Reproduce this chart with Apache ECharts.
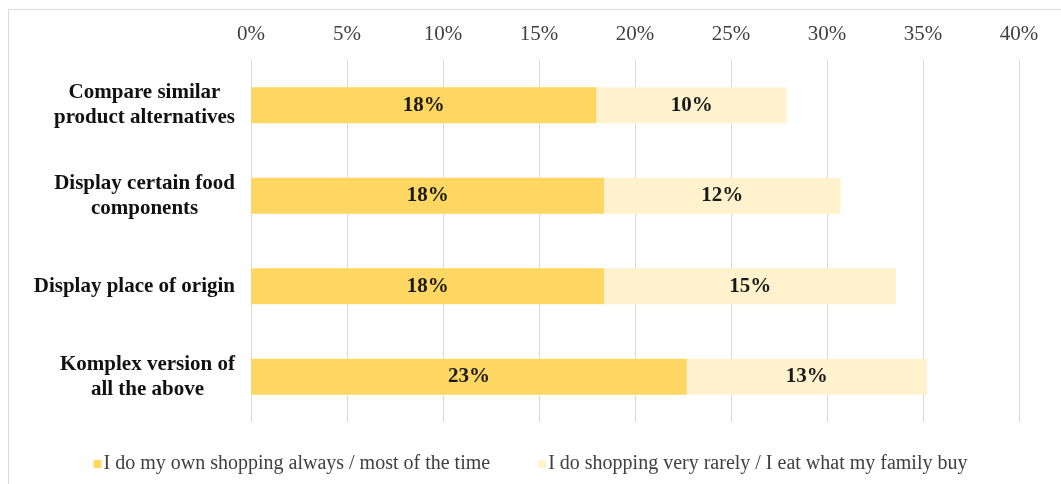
<!DOCTYPE html>
<html>
<head>
<meta charset="utf-8">
<script src="https://cdn.jsdelivr.net/npm/echarts@6/dist/echarts.min.js"></script>
<style>
  html, body { margin: 0; padding: 0; background: #ffffff; }
  #chart { width: 1061px; height: 484px; }
</style>
</head>
<body>
<div id="chart"></div>
<script>
// Survey features, top to bottom
const categories = [
  'Compare similar\nproduct alternatives',
  'Display certain food\ncomponents',
  'Display place of origin',
  'Komplex version of\nall the above'
];

// Share of respondents (%) per shopping habit
const seriesNames = [
  'I do my own shopping always / most of the time',
  'I do shopping very rarely / I eat what my family buy'
];
const ownShopping = [18.0, 18.4, 18.4, 22.7];
const rarelyShopping = [9.9, 12.3, 15.2, 12.5];

// Value axis ticks
const axisMin = 0;
const axisMax = 40;
const axisStep = 5;

const SERIF = '"Times New Roman", "Liberation Serif", serif';
const colors = ['#FED662', '#FFF2CC'];

const chart = echarts.init(document.getElementById('chart'), null, { renderer: 'canvas' });

const labelStyle = {
  show: true,
  position: 'inside',
  fontFamily: SERIF,
  fontSize: 21,
  fontWeight: 'bold',
  color: '#1a1a1a',
  formatter: p => Math.round(p.value) + '%'
};

chart.setOption({
  animation: false,
  backgroundColor: '#ffffff',
  graphic: [{
    type: 'rect',
    silent: true,
    shape: { x: 8.5, y: 9.5, width: 1200, height: 600 },
    style: { fill: 'none', stroke: '#D9D9D9', lineWidth: 1 }
  }],
  grid: { left: 251, right: 42, top: 60, bottom: 62, containLabel: false },
  xAxis: {
    type: 'value',
    position: 'top',
    min: axisMin,
    max: axisMax,
    interval: axisStep,
    axisLine: { show: false },
    axisTick: { show: false },
    splitLine: { show: true, lineStyle: { color: '#D9D9D9', width: 1 } },
    axisLabel: {
      margin: 15,
      fontFamily: SERIF,
      fontSize: 21,
      color: '#404040',
      formatter: v => v + '%'
    }
  },
  yAxis: {
    type: 'category',
    data: categories,
    inverse: true,
    axisLine: { show: false },
    axisTick: { show: false },
    splitLine: { show: false },
    axisLabel: {
      margin: 16,
      fontFamily: SERIF,
      fontSize: 21,
      fontWeight: 'bold',
      color: '#111111',
      lineHeight: 25,
      formatter: v => v.split('\n').map(line => '{c|' + line + '}').join('\n'),
      rich: {
        c: {
          align: 'center',
          fontFamily: SERIF,
          fontSize: 21,
          fontWeight: 'bold',
          color: '#111111',
          lineHeight: 25
        }
      }
    }
  },
  legend: {
    left: 'center',
    top: 449,
    itemWidth: 8,
    itemHeight: 8,
    itemGap: 48,
    icon: 'rect',
    textStyle: { fontFamily: SERIF, fontSize: 20, color: '#404040', padding: [0, 0, 0, -3] },
    data: seriesNames
  },
  series: [
    {
      name: seriesNames[0],
      type: 'bar',
      stack: 'total',
      barWidth: 36,
      data: ownShopping,
      itemStyle: { color: colors[0] },
      label: labelStyle
    },
    {
      name: seriesNames[1],
      type: 'bar',
      stack: 'total',
      barWidth: 36,
      data: rarelyShopping,
      itemStyle: { color: colors[1] },
      label: labelStyle
    }
  ]
});
</script>
</body>
</html>
